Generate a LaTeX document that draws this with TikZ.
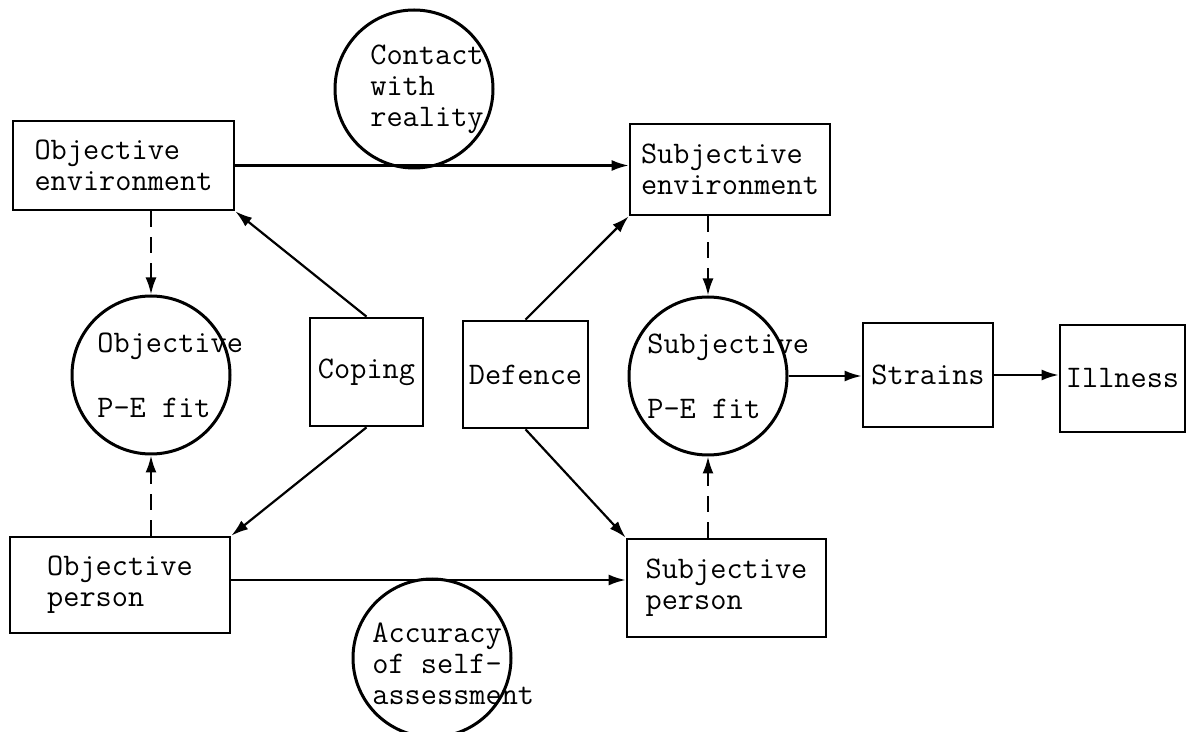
\documentclass[tikz,border=0pt]{standalone}
\usepackage{fontspec}
\usetikzlibrary{arrows.meta}
\begin{document}
\begin{tikzpicture}[x=0.5pt,y=-0.5pt,
  every node/.style={font=\ttfamily\addfontfeatures{FakeBold=0.35}\fontsize{15.7}{15.5}\selectfont},
  box/.style={draw,rectangle,line width=1.35pt,inner sep=0pt,align=left},
  ring/.style={draw,circle,line width=1.5pt,inner sep=0pt,minimum size=79pt},
  ringtext/.style={align=left,inner sep=0pt,anchor=west},
  link/.style={line width=1.1pt,-{Latex[length=8.5pt,width=5.5pt]}},
  hint/.style={link,dash pattern=on 8pt off 5pt}]
\useasboundingbox (0,0) rectangle (1189,732);

% rectangular blocks
\node[box,minimum width=110.5pt,minimum height=44.5pt] (OE) at (123.5,165.5) {Objective\\environment};
\node[box,minimum width=100pt,minimum height=45.5pt] (SE) at (730,169.5) {Subjective\\environment};
\node[box,minimum width=110pt,minimum height=48pt] (OP) at (120,585) {Objective\\person};
\node[box,minimum width=99.5pt,minimum height=49pt] (SP) at (726.5,588) {Subjective\\person};
\node[box,minimum width=56.5pt,minimum height=54pt] (CO) at (366.5,372) {Coping};
\node[box,minimum width=62.5pt,minimum height=53.5pt] (DE) at (525.5,374.5) {Defence};
\node[box,minimum width=65pt,minimum height=52pt] (ST) at (928,375) {Strains};
\node[box,minimum width=62.5pt,minimum height=53.5pt] (IL) at (1122.5,378.5) {Illness};

% circles and their captions
\node[ring] (CR) at (414,89) {};
\node[ringtext] (CRt) at ([xshift=-22pt]CR.center) {Contact\\with\\reality};
\node[ring] (AC) at (432,658) {};
\node[ringtext] (ACt) at ([xshift=-30pt,yshift=-3pt]AC.center) {Accuracy\\of self-\\assessment};
\node[ring] (OF) at (151,375) {};
\node[ringtext] (OFt) at ([xshift=-27pt]OF.center) {Objective\\[17pt]P-E fit};
\node[ring] (SF) at (708,376) {};
\node[ringtext] (SFt) at ([xshift=-30.5pt]SF.center) {Subjective\\[17pt]P-E fit};

% connectors
\draw[link] (OE.east) -- (OE.east -| SE.west);
\draw[link] ([yshift=2.5pt]OP.east) -- ([yshift=2.5pt]OP.east -| SP.west);
\draw[link] (CO.north) -- (OE.south east);
\draw[link] (CO.south) -- (OP.north east);
\draw[link] (DE.north) -- (SE.south west);
\draw[link] (DE.south) -- (SP.north west);
\draw[hint] (OE.south -| OF.north) -- (OF.north);
\draw[hint] (OP.north -| OF.south) -- (OF.south);
\draw[hint] (SE.south -| SF.north) -- (SF.north);
\draw[hint] (SP.north -| SF.south) -- (SF.south);
\draw[link] (SF.east) -- (SF.east -| ST.west);
\draw[link] (ST.east) -- (ST.east -| IL.west);
\end{tikzpicture}
\end{document}
